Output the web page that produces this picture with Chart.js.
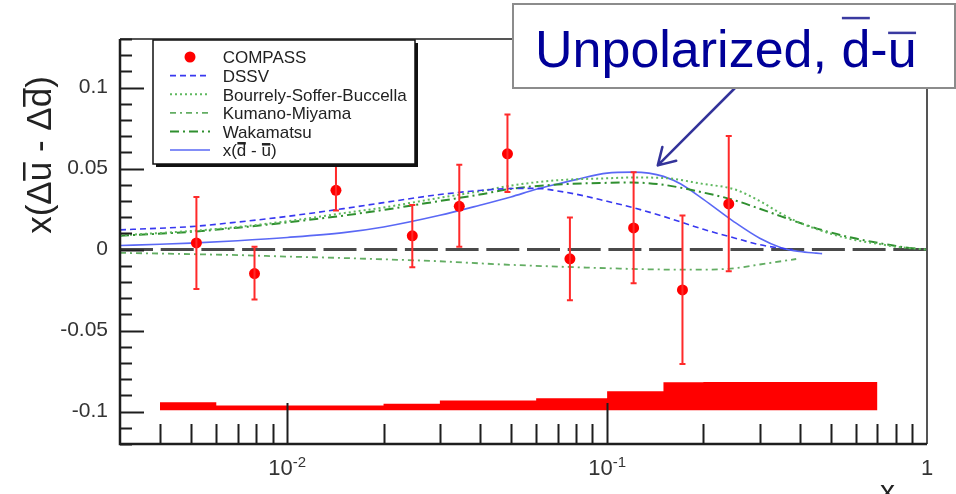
<!DOCTYPE html>
<html>
<head>
<meta charset="utf-8">
<title>COMPASS x(Δū - Δd̄)</title>
<script src="https://cdn.jsdelivr.net/npm/chart.js@4"></script>
<style>
  html, body { margin: 0; padding: 0; background: #fff; }
  canvas { display: block; }
</style>
</head>
<body>
<canvas id="chart" width="956" height="494"></canvas>
<script>
// ---- data ----
const compassX = [0.0052, 0.0079, 0.0142, 0.0246, 0.0345, 0.0488, 0.0765, 0.121, 0.172, 0.240];
const compassY = [0.0041, -0.0148, 0.0366, 0.0085, 0.0267, 0.0591, -0.0057, 0.0134, -0.0249, 0.0282];
const compassErrUp = [0.0284, 0.0165, 0.0160, 0.0191, 0.0257, 0.0243, 0.0255, 0.0343, 0.0459, 0.0420];
const compassErrDown = [0.0284, 0.0160, 0.0125, 0.0194, 0.0250, 0.0235, 0.0255, 0.0342, 0.0457, 0.0416];

const dssvX = [0.003, 0.004, 0.005, 0.007, 0.01, 0.015, 0.02, 0.03, 0.04, 0.05, 0.06, 0.07, 0.08, 0.1, 0.12, 0.15, 0.2, 0.25, 0.3, 0.35, 0.38];
const dssvY = [0.0122, 0.0132, 0.0142, 0.0170, 0.0205, 0.0253, 0.0290, 0.0340, 0.0365, 0.0377, 0.0378, 0.0362, 0.0342, 0.0298, 0.0260, 0.0205, 0.0125, 0.0072, 0.0030, 0.0008, 0.0];

const modelX = [0.003, 0.005, 0.007, 0.01, 0.015, 0.02, 0.03, 0.04, 0.05, 0.07, 0.1, 0.12, 0.15, 0.2, 0.25, 0.3, 0.35, 0.4, 0.5, 0.6, 0.7, 0.8, 0.9, 1];
const bsbY = [0.0088, 0.0115, 0.0140, 0.0175, 0.0225, 0.0260, 0.0320, 0.0360, 0.0395, 0.0428, 0.0440, 0.0445, 0.0442, 0.0405, 0.0372, 0.0300, 0.0222, 0.0166, 0.0098, 0.0058, 0.0036, 0.0018, 0.0008, 0.0];
const wakY = [0.0085, 0.0110, 0.0135, 0.0168, 0.0210, 0.0245, 0.0300, 0.0340, 0.0375, 0.0402, 0.0412, 0.0414, 0.0400, 0.0352, 0.0305, 0.0252, 0.0205, 0.0165, 0.0105, 0.0068, 0.0042, 0.0022, 0.0008, 0.0];

const kmX = [0.003, 0.005, 0.007, 0.01, 0.015, 0.02, 0.03, 0.04, 0.05, 0.07, 0.1, 0.15, 0.2, 0.25, 0.3, 0.35, 0.39];
const kmY = [-0.0020, -0.0028, -0.0034, -0.0043, -0.0052, -0.0060, -0.0072, -0.0085, -0.0094, -0.0105, -0.0115, -0.0123, -0.0124, -0.0115, -0.0092, -0.0072, -0.0058];

const duX = [0.003, 0.004, 0.005, 0.007, 0.01, 0.015, 0.02, 0.03, 0.04, 0.05, 0.06, 0.07, 0.08, 0.1, 0.12, 0.135, 0.15, 0.17, 0.2, 0.25, 0.3, 0.35, 0.4, 0.45, 0.47];
const duY = [0.0025, 0.0033, 0.0040, 0.0055, 0.0075, 0.0105, 0.0140, 0.0212, 0.0274, 0.0325, 0.0372, 0.0405, 0.0432, 0.0472, 0.0478, 0.0472, 0.0452, 0.0405, 0.0310, 0.0170, 0.0070, 0.0012, -0.0012, -0.0022, -0.0025];

// systematic error band (step histogram)
const sysEdges = [0.004, 0.006, 0.02, 0.03, 0.06, 0.1, 0.15, 0.2, 0.7];
const sysTop = [-0.0943, -0.0963, -0.0951, -0.0932, -0.0918, -0.0875, -0.0819, -0.0817];
const sysBase = -0.0992;

const yTickValues = [-0.1, -0.05, 0, 0.05, 0.1];
const yTickLabels = ['-0.1', '-0.05', '0', '0.05', '0.1'];
const xTickValues = [0.01, 0.1, 1];
const xTickBase = ['10', '10', '1'];
const xTickExp = ['-2', '-1', ''];

const arrowTip = { x: 0.144, y: 0.052 };

const FONT = "'Liberation Sans', Arial, Helvetica, sans-serif";
Chart.defaults.font.family = FONT;

function pts(xs, ys) {
    return xs.map((x, i) => ({ x: x, y: ys[i] }));
}

// text where a char followed by U+0304 gets an overline bar
function drawBarredText(ctx, str, x, y, opt) {
    const clean = str.replace(/\u0304/g, '');
    ctx.fillText(clean, x, y);
    let k = 0;
    for (let i = 0; i < str.length; i++) {
        if (str[i] !== '\u0304') { k++; continue; }
        const x0 = x + ctx.measureText(clean.slice(0, k - 1)).width;
        const x1 = x + ctx.measureText(clean.slice(0, k)).width;
        const rise = (/[bdfhklt]/.test(clean[k - 1]) ? opt.hi : opt.lo) * opt.size;
        const keep = ctx.fillStyle;
        if (opt.barColor) ctx.fillStyle = opt.barColor;
        ctx.fillRect(x0 + 0.5, y - rise, x1 - x0 - 1, opt.thick);
        ctx.fillStyle = keep;
    }
    return ctx.measureText(clean).width;
}

function drawErrorBars(chart) {
    const ctx = chart.ctx, xs = chart.scales.x, ys = chart.scales.y;
    ctx.save();
    ctx.strokeStyle = '#ff2a2a';
    ctx.lineWidth = 2;
    compassX.forEach((x, i) => {
        const px = xs.getPixelForValue(x);
        const top = ys.getPixelForValue(compassY[i] + compassErrUp[i]);
        const bot = ys.getPixelForValue(compassY[i] - compassErrDown[i]);
        ctx.beginPath();
        ctx.moveTo(px, top); ctx.lineTo(px, bot);
        ctx.moveTo(px - 3, top); ctx.lineTo(px + 3, top);
        ctx.moveTo(px - 3, bot); ctx.lineTo(px + 3, bot);
        ctx.stroke();
    });
    ctx.restore();
}

function drawFrameAndTicks(chart) {
    const ctx = chart.ctx, a = chart.chartArea, xs = chart.scales.x, ys = chart.scales.y;
    ctx.save();
    // frame
    ctx.strokeStyle = '#555';
    ctx.lineWidth = 2;
    ctx.beginPath();
    ctx.moveTo(a.left, a.top); ctx.lineTo(a.right, a.top); ctx.lineTo(a.right, a.bottom);
    ctx.stroke();
    ctx.strokeStyle = '#1e1e1e';
    ctx.lineWidth = 2.5;
    ctx.beginPath();
    ctx.moveTo(a.left, a.top); ctx.lineTo(a.left, a.bottom); ctx.lineTo(a.right, a.bottom);
    ctx.stroke();
    // y ticks, every 0.01
    ctx.lineWidth = 2;
    ctx.beginPath();
    for (let k = Math.ceil(ys.min * 100 - 1e-6); k <= Math.floor(ys.max * 100 + 1e-6); k++) {
        const py = Math.round(ys.getPixelForValue(k / 100)) + 0.5;
        const len = k % 5 === 0 ? 24 : 12;
        ctx.moveTo(a.left, py); ctx.lineTo(a.left + len, py);
    }
    // x ticks, log minor
    for (let d = -3; d <= 0; d++) {
        for (let m = 1; m <= 9; m++) {
            const v = m * Math.pow(10, d);
            if (v < xs.min * 1.0001 || v > xs.max * 0.9999) continue;
            const px = Math.round(xs.getPixelForValue(v)) + 0.5;
            const len = m === 1 ? 41 : 20;
            ctx.moveTo(px, a.bottom); ctx.lineTo(px, a.bottom - len);
        }
    }
    ctx.stroke();

    // x tick labels with superscript exponent
    ctx.fillStyle = '#333';
    ctx.textAlign = 'left';
    ctx.textBaseline = 'alphabetic';
    xTickValues.forEach((v, i) => {
        const px = xs.getPixelForValue(v);
        ctx.font = '22px ' + FONT;
        const wb = ctx.measureText(xTickBase[i]).width;
        ctx.font = '15px ' + FONT;
        const we = xTickExp[i] ? ctx.measureText(xTickExp[i]).width : 0;
        const x0 = px - (wb + we) / 2;
        ctx.font = '22px ' + FONT;
        ctx.fillText(xTickBase[i], x0, 475);
        if (xTickExp[i]) {
            ctx.font = '15px ' + FONT;
            ctx.fillText(xTickExp[i], x0 + wb, 467);
        }
    });

    // axis titles
    ctx.fillStyle = '#222';
    ctx.font = '30px ' + FONT;
    ctx.fillText('x', 880, 501);

    ctx.font = '35px ' + FONT;
    const ytitle = 'x(Δu\u0304 - Δd\u0304)';
    const w = ctx.measureText(ytitle.replace(/\u0304/g, '')).width;
    ctx.translate(51, 155);
    ctx.rotate(-Math.PI / 2);
    drawBarredText(ctx, ytitle, -w / 2, 0, { size: 35, hi: 0.8, lo: 0.8, thick: 2.5 });
    ctx.restore();
}

function drawLegend(chart) {
    const ctx = chart.ctx;
    const L = 153, T = 40, R = 415, B = 164;
    ctx.save();
    ctx.fillStyle = '#111';
    ctx.fillRect(L + 3, T + 3, R - L, B - T);
    ctx.fillStyle = '#fff';
    ctx.fillRect(L, T, R - L, B - T);
    ctx.strokeStyle = '#111';
    ctx.lineWidth = 1.5;
    ctx.strokeRect(L, T, R - L, B - T);

    const entries = chart.data.datasets.filter(d => d.label);
    ctx.font = '17px ' + FONT;
    ctx.textAlign = 'left';
    ctx.textBaseline = 'alphabetic';
    entries.forEach((ds, i) => {
        const cy = 57 + i * 18.6;
        if (ds.showLine === false) {
            ctx.fillStyle = ds.backgroundColor;
            ctx.beginPath();
            ctx.arc(190, cy, ds.pointRadius, 0, Math.PI * 2);
            ctx.fill();
        } else {
            ctx.strokeStyle = ds.borderColor;
            ctx.lineWidth = ds.borderWidth;
            ctx.setLineDash(ds.borderDash || []);
            ctx.beginPath();
            ctx.moveTo(170, cy); ctx.lineTo(210, cy);
            ctx.stroke();
            ctx.setLineDash([]);
        }
        ctx.fillStyle = '#222';
        drawBarredText(ctx, ds.label, 222.7, cy + 6.3, { size: 17, hi: 0.84, lo: 0.78, thick: 2.5 });
    });
    ctx.restore();
}

function drawAnnotation(chart) {
    const ctx = chart.ctx, xs = chart.scales.x, ys = chart.scales.y;
    ctx.save();
    // arrow
    const tx = xs.getPixelForValue(arrowTip.x), ty = ys.getPixelForValue(arrowTip.y);
    const sx = 735, sy = 88;
    const ang = Math.atan2(sy - ty, sx - tx);
    ctx.strokeStyle = '#33339a';
    ctx.lineWidth = 2.5;
    ctx.lineCap = 'round';
    ctx.beginPath();
    ctx.moveTo(sx, sy); ctx.lineTo(tx, ty);
    [-0.54, 0.54].forEach(d => {
        ctx.moveTo(tx, ty);
        ctx.lineTo(tx + 19 * Math.cos(ang + d), ty + 19 * Math.sin(ang + d));
    });
    ctx.stroke();
    // box
    ctx.fillStyle = '#fff';
    ctx.fillRect(513, 4, 442, 84);
    ctx.strokeStyle = '#8c8c8c';
    ctx.lineWidth = 2;
    ctx.strokeRect(513, 4, 442, 84);
    ctx.font = '52px ' + FONT;
    ctx.fillStyle = '#000099';
    ctx.textAlign = 'left';
    ctx.textBaseline = 'alphabetic';
    drawBarredText(ctx, 'Unpolarized, d\u0304-u\u0304', 535, 67,
        { size: 52, hi: 0.965, lo: 0.68, thick: 2.5, barColor: '#3a3aa0' });
    ctx.restore();
}

const decor = {
    id: 'decor',
    beforeDatasetsDraw(chart) {
        const ctx = chart.ctx, a = chart.chartArea;
        const py = chart.scales.y.getPixelForValue(0);
        ctx.save();
        ctx.strokeStyle = '#4a4a4a';
        ctx.lineWidth = 3;
        ctx.setLineDash([33, 7.7]);
        ctx.beginPath();
        ctx.moveTo(a.left, py); ctx.lineTo(a.right, py);
        ctx.stroke();
        ctx.restore();
    },
    afterDatasetsDraw(chart) {
        drawErrorBars(chart);
        drawFrameAndTicks(chart);
        drawLegend(chart);
    },
    afterDraw(chart) {
        drawAnnotation(chart);
    }
};

const sysPoints = sysEdges.map((x, i) => ({ x: x, y: sysTop[Math.min(i, sysTop.length - 1)] }));

function curve(label, xs, ys, color, dash, width) {
    return {
        type: 'line', label: label, data: pts(xs, ys),
        borderColor: color, borderDash: dash, borderWidth: width,
        pointRadius: 0, fill: false, cubicInterpolationMode: 'monotone'
    };
}

new Chart(document.getElementById('chart').getContext('2d'), {
    type: 'scatter',
    data: {
        datasets: [
            {
                label: 'COMPASS', data: pts(compassX, compassY), showLine: false,
                pointRadius: 5.5, backgroundColor: '#ff0000', borderWidth: 0, pointHoverRadius: 5.5
            },
            curve('DSSV', dssvX, dssvY, '#3838f0', [6, 4], 1.6),
            curve('Bourrely-Soffer-Buccella', modelX, bsbY, '#5fb85f', [2, 3], 2),
            curve('Kumano-Miyama', kmX, kmY, '#63ad63', [6, 4, 2, 4], 1.8),
            curve('Wakamatsu', modelX, wakY, '#2f8f2f', [9, 4, 2, 4], 2),
            curve('x(d\u0304 - u\u0304)', duX, duY, '#5a68f5', [], 1.6),
            {
                type: 'line', label: '', data: sysPoints, stepped: 'before',
                borderColor: 'rgba(0,0,0,0)', borderWidth: 0, pointRadius: 0,
                backgroundColor: '#ff0000', fill: { value: sysBase }
            }
        ]
    },
    options: {
        responsive: false,
        animation: false,
        events: [],
        layout: { padding: { top: 39, right: 29, left: 0, bottom: 0 } },
        plugins: { legend: { display: false }, tooltip: { enabled: false } },
        scales: {
            x: {
                type: 'logarithmic', min: 0.003, max: 1,
                ticks: { display: false },
                grid: { display: false },
                border: { display: false },
                afterFit: s => { s.height = 50; }
            },
            y: {
                min: -0.12, max: 0.13,
                afterBuildTicks: s => { s.ticks = yTickValues.map(v => ({ value: v })); },
                ticks: {
                    callback: v => yTickLabels[yTickValues.indexOf(v)],
                    font: { size: 21, family: FONT },
                    color: '#333',
                    padding: 12
                },
                grid: { display: false, drawTicks: false },
                border: { display: false },
                afterFit: s => { s.width = 120; }
            }
        }
    },
    plugins: [decor]
});
</script>
</body>
</html>
